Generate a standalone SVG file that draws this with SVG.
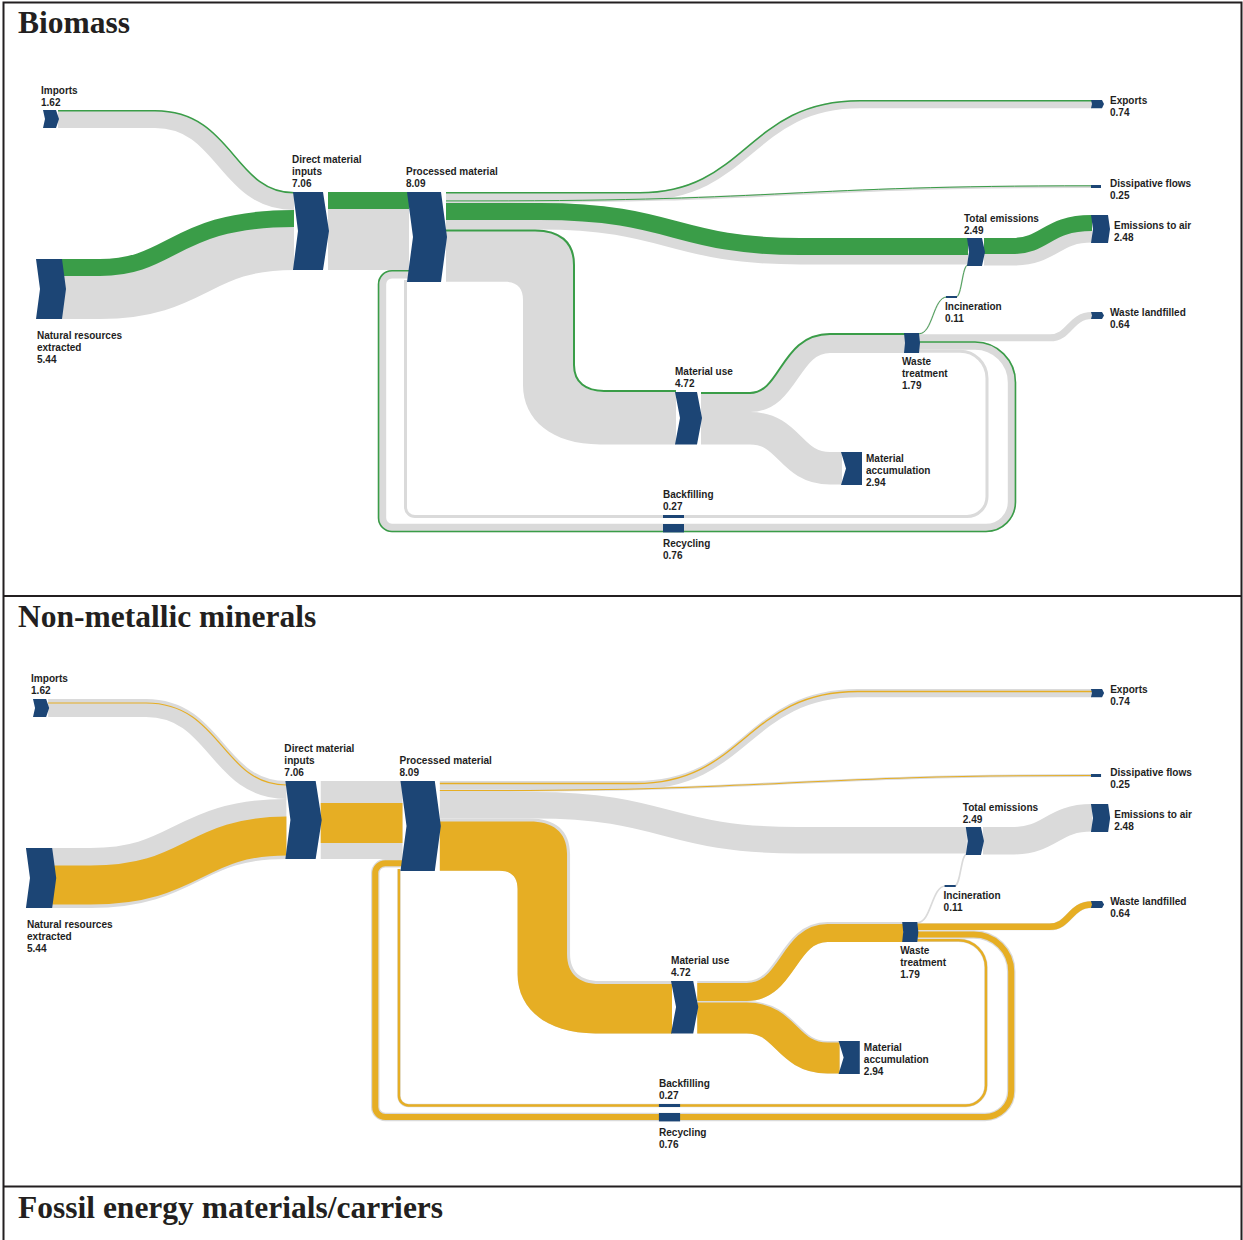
<svg xmlns="http://www.w3.org/2000/svg" width="1243" height="1240" viewBox="0 0 1243 1240">
<style>
.n{fill:#1c4575}
.t{font-family:"Liberation Sans",Arial,sans-serif;font-weight:bold;font-size:10px;fill:#1e1e1e}
.h{font-family:"Liberation Serif","Times New Roman",serif;font-weight:bold;font-size:31.5px;fill:#231f20}
.g{fill:none;stroke:#dadada}
.gf{fill:#dadada}
.gr{fill:none;stroke:#3a9d48}
.grf{fill:#3a9d48}
.yl{fill:none;stroke:#e6ae24}
.yf{fill:#e6ae24}
.fr{fill:none;stroke:#231f20;stroke-width:2}
</style>
<rect width="1243" height="1240" fill="#ffffff"/>
<g id="frame">
<path class="fr" d="M3.5,1242 V2.5 H1241.5 V1242"/>
<path class="fr" d="M3.5,596 H1241.5"/>
<path class="fr" d="M3.5,1186.5 H1241.5"/>
</g>
<text class="h" x="18" y="33">Biomass</text>
<text class="h" x="18" y="627">Non-metallic minerals</text>
<text class="h" x="18" y="1218">Fossil energy materials/carriers</text>

<!-- ================= PANEL 1: BIOMASS ================= -->
<g id="panel-biomass">
<g id="b-connectors">
<path class="g" stroke-width="18" d="M58,119 H155 C225,119 225,201 294,201"/>
<path class="g" stroke-width="60" d="M62,289 H100 C195,289 195,240 294,240"/>
<rect class="gf" x="328" y="192" width="81" height="78"/>
<path class="g" stroke-width="8.2" d="M446,196.1 H640 C750,196.1 750,104.1 860,104.1 H1092"/>
<path class="g" stroke-width="2.8" d="M446,201.6 H480 C790,201.6 790,186.5 1092,186.5"/>
<path class="g" stroke-width="26.4" d="M446,216.2 H540 C670,216.2 670,251.2 800,251.2 H968"/>
<path class="gf" d="M446,229.4 H535 C560,229.4 575,241 575,265 V365 C575,383 586,392 604,392 H676 V444.4 H600 C552,444.4 523,420 523,385 V300 C523,288 517,281.8 505,281.8 H446 Z"/>
<path class="g" stroke-width="27.5" d="M984,251.8 H1012 C1052,251.8 1052,228.8 1092,228.8"/>
<path class="g" stroke-width="19.9" d="M701,402 H750 C790,402 790,343 830,343 H905"/>
<path class="g" stroke-width="32.5" d="M701,428.2 H750 C790,428.2 790,468.3 830,468.3 H842"/>
<path class="g" stroke-width="7.1" d="M919,337.8 H1050 C1070,337.8 1070,315.5 1092,315.5"/>
<path class="g" stroke-width="8.4" d="M919,345.5 H975 A37,37 0 0 1 1012,382.5 V502 A26,26 0 0 1 986,528 H392 A10,10 0 0 1 382,518 V284.2 A10,10 0 0 1 392,274.2 H409"/>
<path class="g" stroke-width="3" d="M919,351.2 H960 A27,27 0 0 1 987,378.2 V496.5 A20,20 0 0 1 967,516.5 H415 A9.5,9.5 0 0 1 405.5,507 V280"/>
<path class="g" stroke-width="1.6" d="M919,333.8 C933,333.8 933,297 947,297"/>
<path class="g" stroke-width="1.6" d="M956,297 C962,297 962,265 968,265"/>
<!-- green (biomass) parts -->
<path class="gr" stroke-width="1.6" d="M58,110.8 H155 C233.2,110.8 233.2,192.8 294,192.8"/>
<path class="gr" stroke-width="17" d="M62,267.5 H100 C173.5,267.5 173.5,218.5 294,218.5"/>
<rect class="grf" x="328" y="192" width="81" height="17"/>
<path class="gr" stroke-width="1.6" d="M446,192.8 H640 C746.7,192.8 746.7,100.8 860,100.8 H1092"/>
<path class="gr" stroke-width="1" d="M446,200.9 H480 C790,200.9 790,185.8 1092,185.8"/>
<path class="gr" stroke-width="17" d="M446,211.5 H540 C674.7,211.5 674.7,246.5 800,246.5 H968"/>
<path class="gr" stroke-width="2" d="M446,230.4 H535 C559,230.4 574,241.5 574,265 V365 C574,382.5 586,391 604,391 H676"/>
<path class="gr" stroke-width="16" d="M984,246 H1012 C1046.25,246 1046.25,223 1092,223"/>
<path class="gr" stroke-width="2" d="M701,393 H750 C781,393 781,334 830,334 H905"/>
<path class="gr" stroke-width="1.6" d="M919,342.05 H975 A40.45,40.45 0 0 1 1015.45,382.5 V502 A29.45,29.45 0 0 1 986,531.45 H392 A13.45,13.45 0 0 1 378.55,518 V284.2 A13.45,13.45 0 0 1 392,270.75 H409"/>
<path class="gr" stroke-width="0.9" d="M919,333.8 C933,333.8 933,297 947,297"/>
<path class="gr" stroke-width="0.9" d="M956,297 C962,297 962,265 968,265"/>
</g>
<g id="b-imports"><path class="n" d="M43,110 H56 L59,119 L56,128 H43 L45,119 Z"/><text class="t" x="41" y="93.5">Imports<tspan x="41" dy="12">1.62</tspan></text></g>
<g id="b-natural-resources"><path class="n" d="M36,259 H62 L66,289 L62,319 H36 L40,289 Z"/><text class="t" x="37" y="339">Natural resources<tspan x="37" dy="12">extracted</tspan><tspan x="37" dy="12">5.44</tspan></text></g>
<g id="b-direct-material-inputs"><path class="n" d="M293,192 H323 L329,231 L323,270 H293 L298,231 Z"/><text class="t" x="292" y="163">Direct material<tspan x="292" dy="12">inputs</tspan><tspan x="292" dy="12">7.06</tspan></text></g>
<g id="b-processed-material"><path class="n" d="M407,192 H441 L447,237 L441,282 H407 L413,237 Z"/><text class="t" x="406" y="175">Processed material<tspan x="406" dy="12">8.09</tspan></text></g>
<g id="b-exports"><path class="n" d="M1091,100 H1102 L1104,104.1 L1102,108.2 H1091 L1092,104.1 Z"/><text class="t" x="1110" y="104">Exports<tspan x="1110" dy="12">0.74</tspan></text></g>
<g id="b-dissipative-flows"><rect class="n" x="1091" y="185" width="10" height="3"/><text class="t" x="1110" y="187">Dissipative flows<tspan x="1110" dy="12">0.25</tspan></text></g>
<g id="b-total-emissions"><path class="n" d="M967,238 H982 L985,252 L982,266 H967 L969,252 Z"/><text class="t" x="964" y="222">Total emissions<tspan x="964" dy="12">2.49</tspan></text></g>
<g id="b-emissions-to-air"><path class="n" d="M1091,215 H1108 L1110,229 L1108,243 H1091 L1093,229 Z"/><text class="t" x="1114" y="229">Emissions to air<tspan x="1114" dy="12">2.48</tspan></text></g>
<g id="b-incineration"><rect class="n" x="946" y="296" width="11" height="2"/><text class="t" x="945" y="310">Incineration<tspan x="945" dy="12">0.11</tspan></text></g>
<g id="b-waste-landfilled"><path class="n" d="M1091,312 H1102 L1104,315.5 L1102,319 H1091 L1092,315.5 Z"/><text class="t" x="1110" y="316">Waste landfilled<tspan x="1110" dy="12">0.64</tspan></text></g>
<g id="b-waste-treatment"><path class="n" d="M904,333 H919 L920,343 L919,353 H904 L905,343 Z"/><text class="t" x="902" y="365">Waste<tspan x="902" dy="12">treatment</tspan><tspan x="902" dy="12">1.79</tspan></text></g>
<g id="b-material-use"><path class="n" d="M675,392 H697 L702,418 L697,444.4 H675 L680,418 Z"/><text class="t" x="675" y="375">Material use<tspan x="675" dy="12">4.72</tspan></text></g>
<g id="b-material-accumulation"><path class="n" d="M841,452 H862 V485 H841 L846,468.5 Z"/><text class="t" x="866" y="462">Material<tspan x="866" dy="12">accumulation</tspan><tspan x="866" dy="12">2.94</tspan></text></g>
<g id="b-backfilling"><rect class="n" x="663" y="515" width="21" height="3"/><text class="t" x="663" y="498">Backfilling<tspan x="663" dy="12">0.27</tspan></text></g>
<g id="b-recycling"><rect class="n" x="663" y="524" width="21" height="8.4"/><text class="t" x="663" y="547">Recycling<tspan x="663" dy="12">0.76</tspan></text></g>
</g>

<!-- ================= PANEL 2: NON-METALLIC MINERALS ================= -->
<g id="panel-nonmetallic" transform="matrix(1.0095 0 0 1 -10.4 589)">
<g id="m-connectors">
<path class="g" stroke-width="18" d="M58,119 H155 C225,119 225,201 294,201"/>
<path class="g" stroke-width="60" d="M62,289 H100 C195,289 195,240 294,240"/>
<rect class="gf" x="328" y="192" width="81" height="78"/>
<path class="g" stroke-width="8.2" d="M446,196.1 H640 C750,196.1 750,104.1 860,104.1 H1092"/>
<path class="g" stroke-width="2.8" d="M446,201.6 H480 C790,201.6 790,186.5 1092,186.5"/>
<path class="g" stroke-width="26.4" d="M446,216.2 H540 C670,216.2 670,251.2 800,251.2 H968"/>
<path class="gf" d="M446,229.4 H535 C560,229.4 575,241 575,265 V365 C575,383 586,392 604,392 H676 V444.4 H600 C552,444.4 523,420 523,385 V300 C523,288 517,281.8 505,281.8 H446 Z"/>
<path class="g" stroke-width="27.5" d="M984,251.8 H1012 C1052,251.8 1052,228.8 1092,228.8"/>
<path class="g" stroke-width="19.9" d="M701,402 H750 C790,402 790,343 830,343 H905"/>
<path class="g" stroke-width="32.5" d="M701,428.2 H750 C790,428.2 790,468.3 830,468.3 H842"/>
<path class="g" stroke-width="7.1" d="M919,337.8 H1050 C1070,337.8 1070,315.5 1092,315.5"/>
<path class="g" stroke-width="8.4" d="M919,345.5 H975 A37,37 0 0 1 1012,382.5 V502 A26,26 0 0 1 986,528 H392 A10,10 0 0 1 382,518 V284.2 A10,10 0 0 1 392,274.2 H409"/>
<path class="g" stroke-width="3.4" d="M919,351.2 H960 A27,27 0 0 1 987,378.2 V496.5 A20,20 0 0 1 967,516.5 H415 A9.5,9.5 0 0 1 405.5,507 V280"/>
<path class="g" stroke-width="1.6" d="M919,333.8 C933,333.8 933,297 947,297"/>
<path class="g" stroke-width="1.6" d="M956,297 C962,297 962,265 968,265"/>
<!-- yellow (non-metallic minerals) parts -->
<path class="yl" stroke-width="1.2" d="M58,114 H155 C230,114 230,196 294,196"/>
<path class="yl" stroke-width="39" d="M62,296 H100 C202,296 202,247 294,247"/>
<rect class="yf" x="328" y="214" width="81" height="40"/>
<path class="yl" stroke-width="1.4" d="M446,194.5 H640 C748.4,194.5 748.4,102.5 860,102.5 H1092"/>
<path class="yl" stroke-width="1" d="M446,201.6 H480 C790,201.6 790,186.5 1092,186.5"/>
<path class="yf" d="M446,232.4 H535 C557,232.4 572,242 572,265 V365 C572,385 584,395 604,395 H676 V444.4 H600 C552,444.4 523,420 523,385 V300 C523,288 517,281.8 505,281.8 H446 Z"/>
<path class="yl" stroke-width="17.9" d="M701,403 H750 C791,403 791,344 830,344 H905"/>
<path class="yl" stroke-width="31" d="M701,428.9 H750 C789.25,428.9 789.25,469 830,469 H842"/>
<path class="yl" stroke-width="6.6" d="M919,337.8 H1050 C1070,337.8 1070,315.5 1092,315.5"/>
<path class="yl" stroke-width="6" d="M919,345.5 H975 A37,37 0 0 1 1012,382.5 V502 A26,26 0 0 1 986,528 H392 A10,10 0 0 1 382,518 V284.2 A10,10 0 0 1 392,274.2 H409"/>
<path class="yl" stroke-width="2.4" d="M919,351.2 H960 A27,27 0 0 1 987,378.2 V496.5 A20,20 0 0 1 967,516.5 H415 A9.5,9.5 0 0 1 405.5,507 V280"/>
</g>
<g id="m-imports"><path class="n" d="M43,110 H56 L59,119 L56,128 H43 L45,119 Z"/><text class="t" x="41" y="93.5">Imports<tspan x="41" dy="12">1.62</tspan></text></g>
<g id="m-natural-resources"><path class="n" d="M36,259 H62 L66,289 L62,319 H36 L40,289 Z"/><text class="t" x="37" y="339">Natural resources<tspan x="37" dy="12">extracted</tspan><tspan x="37" dy="12">5.44</tspan></text></g>
<g id="m-direct-material-inputs"><path class="n" d="M293,192 H323 L329,231 L323,270 H293 L298,231 Z"/><text class="t" x="292" y="163">Direct material<tspan x="292" dy="12">inputs</tspan><tspan x="292" dy="12">7.06</tspan></text></g>
<g id="m-processed-material"><path class="n" d="M407,192 H441 L447,237 L441,282 H407 L413,237 Z"/><text class="t" x="406" y="175">Processed material<tspan x="406" dy="12">8.09</tspan></text></g>
<g id="m-exports"><path class="n" d="M1091,100 H1102 L1104,104.1 L1102,108.2 H1091 L1092,104.1 Z"/><text class="t" x="1110" y="104">Exports<tspan x="1110" dy="12">0.74</tspan></text></g>
<g id="m-dissipative-flows"><rect class="n" x="1091" y="185" width="10" height="3"/><text class="t" x="1110" y="187">Dissipative flows<tspan x="1110" dy="12">0.25</tspan></text></g>
<g id="m-total-emissions"><path class="n" d="M967,238 H982 L985,252 L982,266 H967 L969,252 Z"/><text class="t" x="964" y="222">Total emissions<tspan x="964" dy="12">2.49</tspan></text></g>
<g id="m-emissions-to-air"><path class="n" d="M1091,215 H1108 L1110,229 L1108,243 H1091 L1093,229 Z"/><text class="t" x="1114" y="229">Emissions to air<tspan x="1114" dy="12">2.48</tspan></text></g>
<g id="m-incineration"><rect class="n" x="946" y="296" width="11" height="2"/><text class="t" x="945" y="310">Incineration<tspan x="945" dy="12">0.11</tspan></text></g>
<g id="m-waste-landfilled"><path class="n" d="M1091,312 H1102 L1104,315.5 L1102,319 H1091 L1092,315.5 Z"/><text class="t" x="1110" y="316">Waste landfilled<tspan x="1110" dy="12">0.64</tspan></text></g>
<g id="m-waste-treatment"><path class="n" d="M904,333 H919 L920,343 L919,353 H904 L905,343 Z"/><text class="t" x="902" y="365">Waste<tspan x="902" dy="12">treatment</tspan><tspan x="902" dy="12">1.79</tspan></text></g>
<g id="m-material-use"><path class="n" d="M675,392 H697 L702,418 L697,444.4 H675 L680,418 Z"/><text class="t" x="675" y="375">Material use<tspan x="675" dy="12">4.72</tspan></text></g>
<g id="m-material-accumulation"><path class="n" d="M841,452 H862 V485 H841 L846,468.5 Z"/><text class="t" x="866" y="462">Material<tspan x="866" dy="12">accumulation</tspan><tspan x="866" dy="12">2.94</tspan></text></g>
<g id="m-backfilling"><rect class="n" x="663" y="515" width="21" height="3"/><text class="t" x="663" y="498">Backfilling<tspan x="663" dy="12">0.27</tspan></text></g>
<g id="m-recycling"><rect class="n" x="663" y="524" width="21" height="8.4"/><text class="t" x="663" y="547">Recycling<tspan x="663" dy="12">0.76</tspan></text></g>
</g>
</svg>
